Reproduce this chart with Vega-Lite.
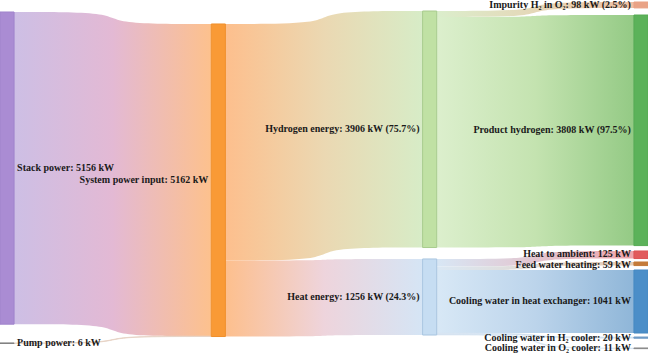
{
  "$schema": "https://vega.github.io/schema/vega-lite/v6.json",
  "width": 648,
  "height": 353,
  "autosize": "none",
  "padding": 0,
  "background": "white",
  "config": {"view": {"stroke": null}},
  "datasets": {
    "nodes": [
      {"node": "Stack power", "kW": 5156, "x0": 0, "x1": 1, "y0": 198, "y1": 5354, "ym": 2776, "side": "left", "label": "Stack power: 5156 kW"},
      {"node": "Pump power", "kW": 6, "x0": 0, "x1": 1, "y0": 5665, "y1": 5671, "ym": 5668, "side": "left", "label": "Pump power: 6 kW"},
      {"node": "System power input", "kW": 5162, "x0": 15, "x1": 16, "y0": 396, "y1": 5558, "ym": 2977, "side": "right", "label": "System power input: 5162 kW"},
      {"node": "Hydrogen energy", "kW": 3906, "x0": 30, "x1": 31, "y0": 182, "y1": 4088, "ym": 2135, "side": "right", "label": "Hydrogen energy: 3906 kW (75.7%)"},
      {"node": "Heat energy", "kW": 1256, "x0": 30, "x1": 31, "y0": 4277, "y1": 5533, "ym": 4905, "side": "right", "label": "Heat energy: 1256 kW (24.3%)"},
      {"node": "Impurity H2 in O2", "kW": 98, "x0": 45, "x1": 46, "y0": 33, "y1": 131, "ym": 82, "side": "right", "label": "Impurity H₂ in O₂: 98 kW (2.5%)"},
      {"node": "Product hydrogen", "kW": 3808, "x0": 45, "x1": 46, "y0": 248, "y1": 4056, "ym": 2152, "side": "right", "label": "Product hydrogen: 3808 kW (97.5%)"},
      {"node": "Heat to ambient", "kW": 125, "x0": 45, "x1": 46, "y0": 4145, "y1": 4270, "ym": 4192, "side": "right", "label": "Heat to ambient: 125 kW"},
      {"node": "Feed water heating", "kW": 59, "x0": 45, "x1": 46, "y0": 4327, "y1": 4386, "ym": 4378, "side": "right", "label": "Feed water heating: 59 kW"},
      {"node": "Cooling water in heat exchanger", "kW": 1041, "x0": 45, "x1": 46, "y0": 4459, "y1": 5500, "ym": 4979, "side": "right", "label": "Cooling water in heat exchanger: 1041 kW"},
      {"node": "Cooling water in H2 cooler", "kW": 20, "x0": 45, "x1": 46, "y0": 5566, "y1": 5586, "ym": 5576, "side": "right", "label": "Cooling water in H₂ cooler: 20 kW"},
      {"node": "Cooling water in O2 cooler", "kW": 11, "x0": 45, "x1": 46, "y0": 5747, "y1": 5758, "ym": 5752, "side": "right", "label": "Cooling water in O₂ cooler: 11 kW"}
    ],
    "links": [
      {"link": "stack-sys", "pt": 0, "x": 1, "top": 198, "bottom": 5354},
      {"link": "stack-sys", "pt": 1, "x": 8, "top": 198, "bottom": 5354},
      {"link": "stack-sys", "pt": 2, "x": 8, "top": 396, "bottom": 5552},
      {"link": "stack-sys", "pt": 3, "x": 15, "top": 396, "bottom": 5552},
      {"link": "pump-sys", "pt": 0, "x": 1, "top": 5665, "bottom": 5671},
      {"link": "pump-sys", "pt": 1, "x": 8, "top": 5665, "bottom": 5671},
      {"link": "pump-sys", "pt": 2, "x": 8, "top": 5552, "bottom": 5558},
      {"link": "pump-sys", "pt": 3, "x": 15, "top": 5552, "bottom": 5558},
      {"link": "sys-h", "pt": 0, "x": 16, "top": 396, "bottom": 4302},
      {"link": "sys-h", "pt": 1, "x": 23, "top": 396, "bottom": 4302},
      {"link": "sys-h", "pt": 2, "x": 23, "top": 182, "bottom": 4088},
      {"link": "sys-h", "pt": 3, "x": 30, "top": 182, "bottom": 4088},
      {"link": "sys-heat", "pt": 0, "x": 16, "top": 4302, "bottom": 5558},
      {"link": "sys-heat", "pt": 1, "x": 23, "top": 4302, "bottom": 5558},
      {"link": "sys-heat", "pt": 2, "x": 23, "top": 4277, "bottom": 5533},
      {"link": "sys-heat", "pt": 3, "x": 30, "top": 4277, "bottom": 5533},
      {"link": "h-imp", "pt": 0, "x": 31, "top": 182, "bottom": 280},
      {"link": "h-imp", "pt": 1, "x": 38, "top": 182, "bottom": 280},
      {"link": "h-imp", "pt": 2, "x": 38, "top": 33, "bottom": 131},
      {"link": "h-imp", "pt": 3, "x": 45, "top": 33, "bottom": 131},
      {"link": "h-prod", "pt": 0, "x": 31, "top": 280, "bottom": 4088},
      {"link": "h-prod", "pt": 1, "x": 38, "top": 280, "bottom": 4088},
      {"link": "h-prod", "pt": 2, "x": 38, "top": 248, "bottom": 4056},
      {"link": "h-prod", "pt": 3, "x": 45, "top": 248, "bottom": 4056},
      {"link": "heat-amb", "pt": 0, "x": 31, "top": 4277, "bottom": 4402},
      {"link": "heat-amb", "pt": 1, "x": 38, "top": 4277, "bottom": 4402},
      {"link": "heat-amb", "pt": 2, "x": 38, "top": 4145, "bottom": 4270},
      {"link": "heat-amb", "pt": 3, "x": 45, "top": 4145, "bottom": 4270},
      {"link": "heat-feed", "pt": 0, "x": 31, "top": 4402, "bottom": 4461},
      {"link": "heat-feed", "pt": 1, "x": 38, "top": 4402, "bottom": 4461},
      {"link": "heat-feed", "pt": 2, "x": 38, "top": 4327, "bottom": 4386},
      {"link": "heat-feed", "pt": 3, "x": 45, "top": 4327, "bottom": 4386},
      {"link": "heat-hx", "pt": 0, "x": 31, "top": 4461, "bottom": 5502},
      {"link": "heat-hx", "pt": 1, "x": 38, "top": 4461, "bottom": 5502},
      {"link": "heat-hx", "pt": 2, "x": 38, "top": 4459, "bottom": 5500},
      {"link": "heat-hx", "pt": 3, "x": 45, "top": 4459, "bottom": 5500},
      {"link": "heat-h2", "pt": 0, "x": 31, "top": 5502, "bottom": 5522},
      {"link": "heat-h2", "pt": 1, "x": 38, "top": 5502, "bottom": 5522},
      {"link": "heat-h2", "pt": 2, "x": 38, "top": 5566, "bottom": 5586},
      {"link": "heat-h2", "pt": 3, "x": 45, "top": 5566, "bottom": 5586},
      {"link": "heat-o2", "pt": 0, "x": 31, "top": 5522, "bottom": 5533},
      {"link": "heat-o2", "pt": 1, "x": 38, "top": 5522, "bottom": 5533},
      {"link": "heat-o2", "pt": 2, "x": 38, "top": 5747, "bottom": 5758},
      {"link": "heat-o2", "pt": 3, "x": 45, "top": 5747, "bottom": 5758}
    ]
  },
  "layer": [
    {
      "data": {"name": "links"},
      "transform": [{"filter": "datum.link === 'stack-sys'"}],
      "mark": {"type": "area", "interpolate": "basis", "color": {"gradient": "linear", "x1": 0, "x2": 1, "y1": 0, "y2": 0, "stops": [{"offset": 0, "color": "#cdbfe5"}, {"offset": 0.5, "color": "#e3b9d4"}, {"offset": 1, "color": "#fdc18d"}]}},
      "encoding": {
        "x": {"field": "x", "type": "quantitative", "scale": {"domain": [0, 46], "nice": false, "zero": false}, "axis": null},
        "y": {"field": "top", "type": "quantitative", "scale": {"domain": [0, 5830], "nice": false, "zero": false, "reverse": true}, "axis": null},
        "y2": {"field": "bottom"}
      }
    },
    {
      "data": {"name": "links"},
      "transform": [{"filter": "datum.link === 'pump-sys'"}],
      "mark": {"type": "area", "interpolate": "basis", "color": "#e8cfc0", "stroke": "#e6d2c4", "strokeWidth": 0.8},
      "encoding": {
        "x": {"field": "x", "type": "quantitative"},
        "y": {"field": "top", "type": "quantitative"},
        "y2": {"field": "bottom"}
      }
    },
    {
      "data": {"name": "links"},
      "transform": [{"filter": "datum.link === 'sys-h'"}],
      "mark": {"type": "area", "interpolate": "basis", "color": {"gradient": "linear", "x1": 0, "x2": 1, "y1": 0, "y2": 0, "stops": [{"offset": 0, "color": "#fdbf8d"}, {"offset": 0.5, "color": "#ebd8b2"}, {"offset": 1, "color": "#d7ecc7"}]}},
      "encoding": {
        "x": {"field": "x", "type": "quantitative"},
        "y": {"field": "top", "type": "quantitative"},
        "y2": {"field": "bottom"}
      }
    },
    {
      "data": {"name": "links"},
      "transform": [{"filter": "datum.link === 'sys-heat'"}],
      "mark": {"type": "area", "interpolate": "basis", "color": {"gradient": "linear", "x1": 0, "x2": 1, "y1": 0, "y2": 0, "stops": [{"offset": 0, "color": "#fdbf8d"}, {"offset": 0.5, "color": "#eed4dc"}, {"offset": 1, "color": "#d5e5f5"}]}},
      "encoding": {
        "x": {"field": "x", "type": "quantitative"},
        "y": {"field": "top", "type": "quantitative"},
        "y2": {"field": "bottom"}
      }
    },
    {
      "data": {"name": "links"},
      "transform": [{"filter": "datum.link === 'h-imp'"}],
      "mark": {"type": "area", "interpolate": "basis", "color": {"gradient": "linear", "x1": 0, "x2": 1, "y1": 0, "y2": 0, "stops": [{"offset": 0, "color": "#dbeecc"}, {"offset": 1, "color": "#efc0a4"}]}},
      "encoding": {
        "x": {"field": "x", "type": "quantitative"},
        "y": {"field": "top", "type": "quantitative"},
        "y2": {"field": "bottom"}
      }
    },
    {
      "data": {"name": "links"},
      "transform": [{"filter": "datum.link === 'h-prod'"}],
      "mark": {"type": "area", "interpolate": "basis", "color": {"gradient": "linear", "x1": 0, "x2": 1, "y1": 0, "y2": 0, "stops": [{"offset": 0, "color": "#dcefcd"}, {"offset": 0.5, "color": "#c4e3b0"}, {"offset": 1, "color": "#94ca85"}]}},
      "encoding": {
        "x": {"field": "x", "type": "quantitative"},
        "y": {"field": "top", "type": "quantitative"},
        "y2": {"field": "bottom"}
      }
    },
    {
      "data": {"name": "links"},
      "transform": [{"filter": "datum.link === 'heat-amb'"}],
      "mark": {"type": "area", "interpolate": "basis", "color": {"gradient": "linear", "x1": 0, "x2": 1, "y1": 0, "y2": 0, "stops": [{"offset": 0, "color": "#d8e7f5"}, {"offset": 1, "color": "#eea4ab"}]}},
      "encoding": {
        "x": {"field": "x", "type": "quantitative"},
        "y": {"field": "top", "type": "quantitative"},
        "y2": {"field": "bottom"}
      }
    },
    {
      "data": {"name": "links"},
      "transform": [{"filter": "datum.link === 'heat-feed'"}],
      "mark": {"type": "area", "interpolate": "basis", "color": {"gradient": "linear", "x1": 0, "x2": 1, "y1": 0, "y2": 0, "stops": [{"offset": 0, "color": "#dbe8f4"}, {"offset": 1, "color": "#e6ccb4"}]}},
      "encoding": {
        "x": {"field": "x", "type": "quantitative"},
        "y": {"field": "top", "type": "quantitative"},
        "y2": {"field": "bottom"}
      }
    },
    {
      "data": {"name": "links"},
      "transform": [{"filter": "datum.link === 'heat-hx'"}],
      "mark": {"type": "area", "interpolate": "basis", "color": {"gradient": "linear", "x1": 0, "x2": 1, "y1": 0, "y2": 0, "stops": [{"offset": 0, "color": "#d8e8f6"}, {"offset": 0.5, "color": "#bcd4eb"}, {"offset": 1, "color": "#8fb6d8"}]}},
      "encoding": {
        "x": {"field": "x", "type": "quantitative"},
        "y": {"field": "top", "type": "quantitative"},
        "y2": {"field": "bottom"}
      }
    },
    {
      "data": {"name": "links"},
      "transform": [{"filter": "datum.link === 'heat-h2' || datum.link === 'heat-o2'"}],
      "mark": {"type": "area", "interpolate": "basis", "color": "#cfe0f0", "stroke": "#d6e4f1", "strokeWidth": 0.6},
      "encoding": {
        "x": {"field": "x", "type": "quantitative"},
        "y": {"field": "top", "type": "quantitative"},
        "y2": {"field": "bottom"},
        "detail": {"field": "link"}
      }
    },
    {
      "data": {"name": "nodes"},
      "mark": {"type": "rect", "strokeWidth": 1},
      "encoding": {
        "x": {"field": "x0", "type": "quantitative"},
        "x2": {"field": "x1"},
        "y": {"field": "y0", "type": "quantitative"},
        "y2": {"field": "y1"},
        "color": {
          "field": "node", "type": "nominal", "legend": null,
          "scale": {
            "domain": ["Stack power", "Pump power", "System power input", "Hydrogen energy", "Heat energy", "Impurity H2 in O2", "Product hydrogen", "Heat to ambient", "Feed water heating", "Cooling water in heat exchanger", "Cooling water in H2 cooler", "Cooling water in O2 cooler"],
            "range": ["#aa8cd3", "#7d7d7d", "#f99a36", "#c0e1a4", "#c6ddf2", "#e9a386", "#5cb25a", "#e15b5d", "#c47b3a", "#4b8ec8", "#6f9cc6", "#8a8a8a"]
          }
        },
        "stroke": {
          "field": "node", "type": "nominal", "legend": null,
          "scale": {
            "domain": ["Stack power", "Pump power", "System power input", "Hydrogen energy", "Heat energy", "Impurity H2 in O2", "Product hydrogen", "Heat to ambient", "Feed water heating", "Cooling water in heat exchanger", "Cooling water in H2 cooler", "Cooling water in O2 cooler"],
            "range": ["#a084cc", "#7d7d7d", "#f0902c", "#a8cc8e", "#a9c6e0", "#e9a386", "#56ab54", "#dc5557", "#c47b3a", "#4689c2", "#6f9cc6", "#8a8a8a"]
          }
        }
      }
    },
    {
      "data": {"name": "nodes"},
      "transform": [{"filter": "datum.side === 'left'"}],
      "mark": {"type": "text", "align": "left", "baseline": "middle", "dx": 3, "font": "Liberation Serif", "fontWeight": "bold", "fontSize": 10, "color": "#1a1a1a"},
      "encoding": {
        "x": {"field": "x1", "type": "quantitative"},
        "y": {"field": "ym", "type": "quantitative"},
        "text": {"field": "label"}
      }
    },
    {
      "data": {"name": "nodes"},
      "transform": [{"filter": "datum.side === 'right'"}],
      "mark": {"type": "text", "align": "right", "baseline": "middle", "dx": -3, "font": "Liberation Serif", "fontWeight": "bold", "fontSize": 10, "color": "#1a1a1a"},
      "encoding": {
        "x": {"field": "x0", "type": "quantitative"},
        "y": {"field": "ym", "type": "quantitative"},
        "text": {"field": "label"}
      }
    }
  ]
}
